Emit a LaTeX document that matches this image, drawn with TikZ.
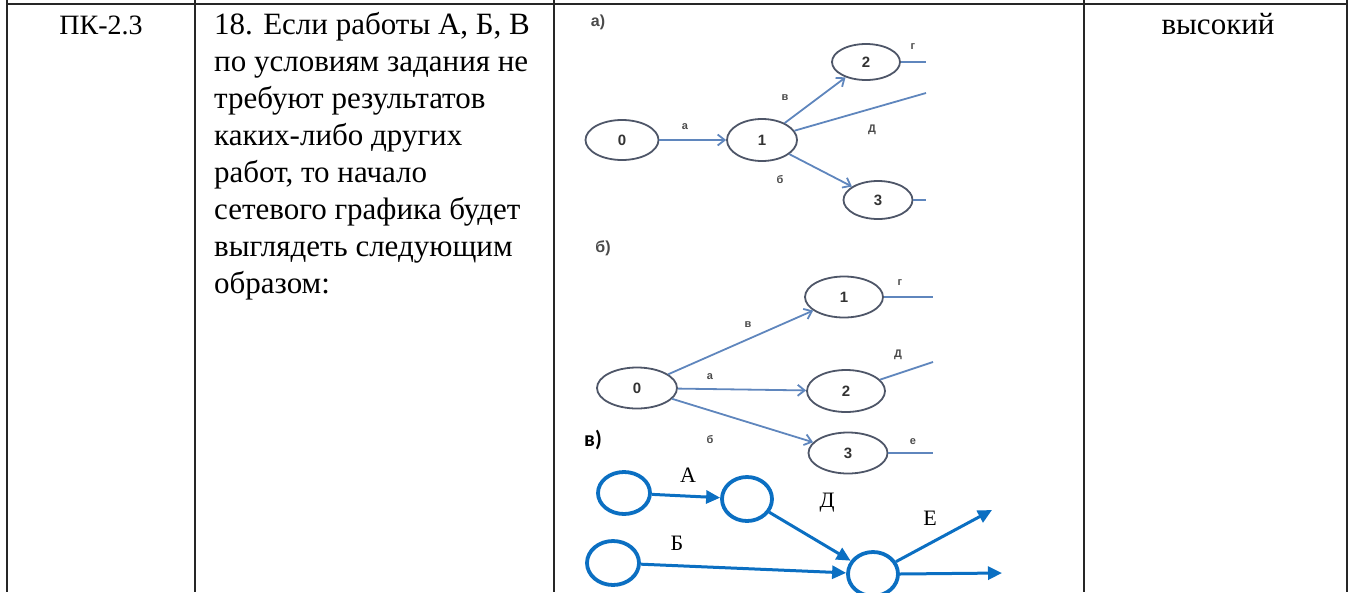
\documentclass[tikz,border=0pt]{standalone}
\usepackage{fontspec}
\setmainfont{Liberation Serif}
\newfontfamily\lsans{Liberation Sans}
\newfontfamily\carl{Carlito}
\usetikzlibrary{shapes.geometric,arrows.meta}
\definecolor{gcirc}{HTML}{4E5668}
\definecolor{garr}{HTML}{5F86BD}
\definecolor{glab}{HTML}{4A4A4A}
\definecolor{varr}{HTML}{0B6FC2}
\begin{document}
\begin{tikzpicture}[x=1pt,y=-1pt,
  tline/.style={line width=2pt,black!85},
  gnode/.style={ellipse,draw=gcirc,line width=1.8pt,inner sep=0pt,font=\lsans\bfseries\fontsize{15}{15}\selectfont,text=black!80},
  garrow/.style={draw=garr,line width=1.8pt,-{Straight Barb[length=7pt,width=11pt]}},
  gline/.style={draw=garr,line width=1.8pt},
  glabel/.style={font=\lsans\bfseries\fontsize{11}{11}\selectfont,text=glab,inner sep=0pt},
  gtitle/.style={font=\lsans\bfseries\fontsize{16}{16}\selectfont,text=glab,inner sep=0pt},
  vnode/.style={ellipse,draw=varr,line width=3.8pt,inner sep=0pt},
  varrow/.style={draw=varr,line width=3pt,-{Triangle[length=14pt,width=13pt]}},
  vlabel/.style={font=\fontsize{22}{22}\selectfont,inner sep=0pt},
  body/.style={font=\fontsize{31}{37}\selectfont,align=left,inner sep=0pt}
]
\useasboundingbox (0,0) rectangle (1349,592);
% table lines
\draw[tline] (7,4) -- (1347,4);
\foreach \xx in {7,195,554,1084,1347} \draw[tline] (\xx,0) -- (\xx,592);
% texts
\node[font=\fontsize{28}{28}\selectfont,inner sep=0pt,anchor=base] (code) at (101,34) {ПК-2.3};
\node[body,anchor=base west] (q) at (214,293) {18. Если работы А, Б, В\\по условиям задания не\\требуют результатов\\каких-либо других\\работ, то начало\\сетевого графика будет\\выглядеть следующим\\образом:};
\node[font=\fontsize{31}{31}\selectfont,inner sep=0pt,anchor=base] (lvl) at (1218,34) {высокий};
% diagram a
\node[gtitle] (ta) at (598,22) {а)};
\node[gnode,minimum width=73pt,minimum height=40pt] (a0) at (622,140) {0};
\node[gnode,minimum width=70pt,minimum height=42pt] (a1) at (762,140) {1};
\node[gnode,minimum width=68pt,minimum height=36pt] (a2) at (866,62) {2};
\node[gnode,minimum width=69pt,minimum height=38pt] (a3) at (878,200) {3};
\coordinate (aD) at (926,93);
\coordinate (aG) at (926,62);
\coordinate (aE) at (926,200);
\draw[garrow] (a0) -- (a1);
\draw[garrow] (a1) -- (a2);
\draw[garrow] (a1) -- (a3);
\draw[gline] (a1) -- (aD);
\draw[gline] (a2) -- (aG);
\draw[gline] (a3) -- (aE);
\node[glabel] at (685,127) {а};
\node[glabel] at (785,98) {в};
\node[glabel] at (872,130) {Д};
\node[glabel] at (780,180) {б};
\node[glabel] at (913,47) {г};
% diagram b
\node[gtitle] (tb) at (603,248) {б)};
\node[gnode,minimum width=80pt,minimum height=41pt] (b0) at (637,388) {0};
\node[gnode,minimum width=78pt,minimum height=41pt] (b1) at (844,297) {1};
\node[gnode,minimum width=78pt,minimum height=42pt] (b2) at (846,391) {2};
\node[gnode,minimum width=79pt,minimum height=41pt] (b3) at (848,453) {3};
\coordinate (bG) at (933,297);
\coordinate (bD) at (933,362);
\coordinate (bE) at (933,453);
\draw[garrow] (b0) -- (b1);
\draw[garrow] (b0) -- (b2);
\draw[garrow] (b0) -- (b3);
\draw[gline] (b1) -- (bG);
\draw[gline] (b2) -- (bD);
\draw[gline] (b3) -- (bE);
\node[glabel] at (748,325) {в};
\node[glabel] at (710,377) {а};
\node[glabel] at (710,440) {б};
\node[glabel] at (900,283) {г};
\node[glabel] at (898,355) {Д};
\node[glabel] at (913,442) {е};
% diagram c
\node[font=\carl\bfseries\fontsize{22}{22}\selectfont,inner sep=0pt] (tc) at (593,440) {в)};
\node[vnode,minimum width=52pt,minimum height=42pt] (c0) at (624,493) {};
\node[vnode,minimum width=50pt,minimum height=44pt] (c1) at (747,499) {};
\node[vnode,minimum width=52pt,minimum height=44pt] (c2) at (613,563) {};
\node[vnode,minimum width=50pt,minimum height=44pt] (c3) at (873,574) {};
\coordinate (cE) at (992,510);
\coordinate (cF) at (1002,573);
\draw[varrow] (c0) -- (c1);
\draw[varrow] (c1) -- (c3);
\draw[varrow] (c2) -- (c3);
\draw[varrow] (c3) -- (cE);
\draw[varrow] (c3.east) -- (cF);
\node[vlabel] at (688,475) {А};
\node[vlabel] at (827,503) {Д};
\node[vlabel] at (677,543) {Б};
\node[vlabel] at (930,518) {Е};
\end{tikzpicture}
\end{document}
